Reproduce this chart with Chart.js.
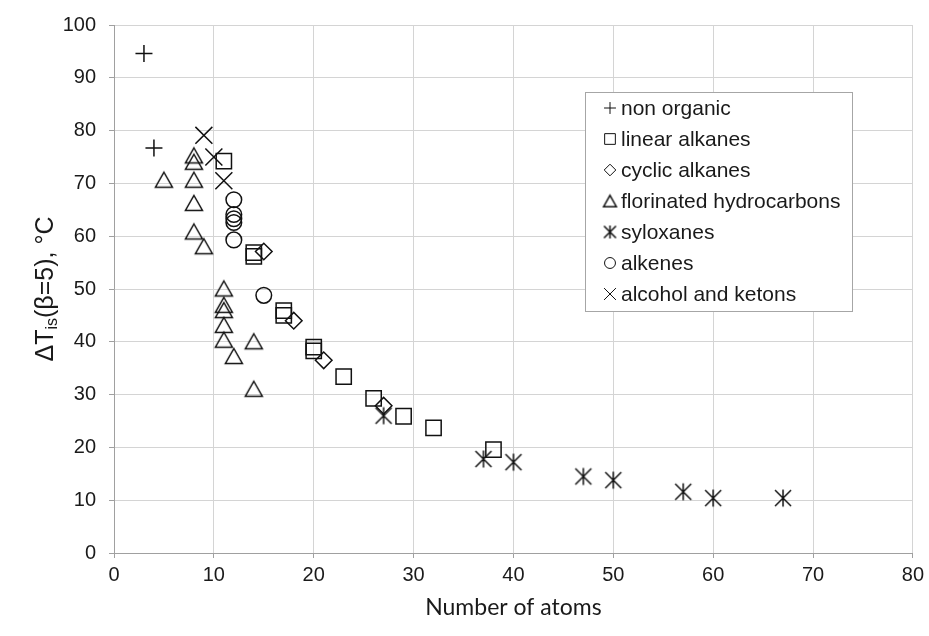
<!DOCTYPE html>
<html>
<head>
<meta charset="utf-8">
<script src="https://cdn.jsdelivr.net/npm/chart.js@4.4.0/dist/chart.umd.min.js"></script>
<style>
  body { margin: 0; background: #fff; }
  #wrap { width: 929px; height: 636px; }
</style>
</head>
<body>
<div id="wrap"><canvas id="myChart" width="929" height="636"></canvas></div>
<script>
// ΔTis(β=5) against number of atoms, one series per compound family
const nonOrganicX = [3, 4];
const nonOrganicY = [94.6, 76.7];

const linearAlkanesX = [11, 14, 14, 17, 17, 20, 20, 23, 26, 29, 32, 38];
const linearAlkanesY = [74.2, 56.9, 56.2, 45.9, 45.0, 39.0, 38.3, 33.4, 29.3, 25.9, 23.7, 19.6];

const cyclicAlkanesX = [15, 18, 21, 27];
const cyclicAlkanesY = [57.1, 44.0, 36.5, 27.9];

const fluorinatedX = [5, 8, 8, 8, 8, 8, 9, 11, 11, 11, 11, 11, 12, 14, 14];
const fluorinatedY = [70.7, 75.3, 74.1, 70.7, 66.3, 60.9, 58.1, 50.1, 47.0, 46.0, 43.2, 40.4, 37.3, 40.1, 31.1];

const syloxanesX = [27, 37, 40, 47, 50, 57, 60, 67];
const syloxanesY = [26.0, 17.8, 17.2, 14.5, 13.8, 11.6, 10.4, 10.4];

const alkenesX = [12, 12, 12, 12, 12, 15];
const alkenesY = [66.9, 64.1, 63.3, 62.6, 59.3, 48.8];

const alcoholsX = [9, 10, 11];
const alcoholsY = [79.1, 75.0, 70.5];

const seriesNames = ['non organic', 'linear alkanes', 'cyclic alkanes', 'florinated hydrocarbons',
  'syloxanes', 'alkenes', 'alcohol and ketons'];

const xTickLabels = [0, 10, 20, 30, 40, 50, 60, 70, 80];
const yTickLabels = [0, 10, 20, 30, 40, 50, 60, 70, 80, 90, 100];

const INK = '#111111';
const TEXT = '#1a1a1a';
const SANS = '"Liberation Sans", Arial, sans-serif';

// markers Chart.js has no shape for: open triangle and the X-with-vertical-bar star
function markerCanvas(size, draw) {
  const c = document.createElement('canvas');
  c.width = c.height = size;
  const g = c.getContext('2d');
  g.strokeStyle = INK;
  g.lineWidth = 1.5;
  draw(g, size / 2);
  return c;
}
function triangle(scale) {
  return markerCanvas(Math.ceil(22 * scale), (g, m) => {
    const hw = 8.5 * scale, hh = 7.5 * scale;
    g.beginPath();
    g.moveTo(m, m - hh);
    g.lineTo(m + hw, m + hh);
    g.lineTo(m - hw, m + hh);
    g.closePath();
    g.stroke();
  });
}
function asterisk(scale) {
  return markerCanvas(Math.ceil(22 * scale), (g, m) => {
    const d = 8 * scale;
    g.beginPath();
    g.moveTo(m - d, m - d); g.lineTo(m + d, m + d);
    g.moveTo(m + d, m - d); g.lineTo(m - d, m + d);
    g.moveTo(m, m - d - 0.5); g.lineTo(m, m + d + 0.5);
    g.stroke();
  });
}

const pairs = (xs, ys) => xs.map((x, i) => ({ x: x, y: ys[i] }));

const markers = [
  { style: 'cross', radius: 8.5 },
  { style: 'rect', radius: 10.8 },
  { style: 'rectRot', radius: 8.3 },
  { style: triangle(1), legend: triangle(0.75) },
  { style: asterisk(1), legend: asterisk(0.75) },
  { style: 'circle', radius: 7.8 },
  { style: 'crossRot', radius: 12 }
];
const seriesData = [
  pairs(nonOrganicX, nonOrganicY),
  pairs(linearAlkanesX, linearAlkanesY),
  pairs(cyclicAlkanesX, cyclicAlkanesY),
  pairs(fluorinatedX, fluorinatedY),
  pairs(syloxanesX, syloxanesY),
  pairs(alkenesX, alkenesY),
  pairs(alcoholsX, alcoholsY)
];

const datasets = seriesData.map((data, i) => ({
  label: seriesNames[i],
  data: data,
  showLine: false,
  pointStyle: markers[i].style,
  pointRadius: markers[i].radius || 10,
  pointBorderColor: INK,
  pointBackgroundColor: 'rgba(0,0,0,0)',
  pointBorderWidth: 1.5
}));

// boxed legend inside the plot plus the y title with its subscript
const extras = {
  id: 'extras',
  afterDraw(chart) {
    const ctx = chart.ctx;
    ctx.save();

    const bx = 585.5, by = 92.5, bw = 267, bh = 219;
    ctx.fillStyle = '#ffffff';
    ctx.fillRect(bx, by, bw, bh);
    ctx.strokeStyle = '#a6a6a6';
    ctx.lineWidth = 1;
    ctx.strokeRect(bx, by, bw, bh);

    ctx.font = '21px ' + SANS;
    ctx.textBaseline = 'middle';
    ctx.textAlign = 'left';
    seriesNames.forEach((name, i) => {
      const ry = 108 + i * 31;
      const mk = markers[i];
      ctx.strokeStyle = INK;
      ctx.fillStyle = 'rgba(0,0,0,0)';
      if (mk.legend) {
        ctx.drawImage(mk.legend, 610 - mk.legend.width / 2, ry - mk.legend.height / 2);
      } else {
        Chart.helpers.drawPoint(ctx, { pointStyle: mk.style, radius: mk.radius * 0.7, borderWidth: 1.3 }, 610, ry);
      }
      ctx.fillStyle = TEXT;
      ctx.fillText(name, 621, ry + 1);
    });

    // rotated y title: ΔT, subscript "is", then (β=5), °C
    const big = '25px ' + SANS;
    const small = '16px ' + SANS;
    const p1 = 'ΔT', p2 = 'is', p3 = '(β=5), °C';
    ctx.font = big; const w1 = ctx.measureText(p1).width, w3 = ctx.measureText(p3).width;
    ctx.font = small; const w2 = ctx.measureText(p2).width;
    const total = w1 + w2 + w3;
    ctx.translate(44, (chart.chartArea.top + chart.chartArea.bottom) / 2);
    ctx.rotate(-Math.PI / 2);
    ctx.fillStyle = TEXT;
    ctx.textBaseline = 'alphabetic';
    let x = -total / 2;
    ctx.font = big; ctx.fillText(p1, x, 9); x += w1;
    ctx.font = small; ctx.fillText(p2, x, 13); x += w2;
    ctx.font = big; ctx.fillText(p3, x, 9);

    ctx.restore();
  }
};

new Chart(document.getElementById('myChart'), {
  type: 'scatter',
  data: { datasets: datasets },
  options: {
    responsive: false,
    animation: false,
    devicePixelRatio: 1,
    layout: { padding: { top: 18, right: 13, left: 0, bottom: 0 } },
    plugins: { legend: { display: false }, tooltip: { enabled: false } },
    scales: {
      x: {
        type: 'linear',
        min: xTickLabels[0],
        max: xTickLabels[xTickLabels.length - 1],
        afterFit: (s) => { s.height = 83; },
        afterBuildTicks: (s) => { s.ticks = xTickLabels.map(v => ({ value: v })); },
        grid: { color: '#d4d4d4', tickColor: '#a0a0a0', tickLength: 5 },
        border: { color: '#a0a0a0' },
        ticks: { color: TEXT, padding: 5, font: { family: SANS, size: 20 } },
        title: {
          display: true,
          text: 'Number of atoms',
          color: TEXT,
          font: { family: 'Lato, "Open Sans", sans-serif', size: 23 },
          padding: { top: 0, bottom: 15 }
        }
      },
      y: {
        type: 'linear',
        min: yTickLabels[0],
        max: yTickLabels[yTickLabels.length - 1],
        afterFit: (s) => { s.width = 114; },
        afterBuildTicks: (s) => { s.ticks = yTickLabels.map(v => ({ value: v })); },
        grid: { color: '#d4d4d4', tickColor: '#a0a0a0', tickLength: 5 },
        border: { color: '#a0a0a0' },
        ticks: { color: TEXT, padding: 13, font: { family: SANS, size: 20 } }
      }
    }
  },
  plugins: [extras]
});
</script>
</body>
</html>
